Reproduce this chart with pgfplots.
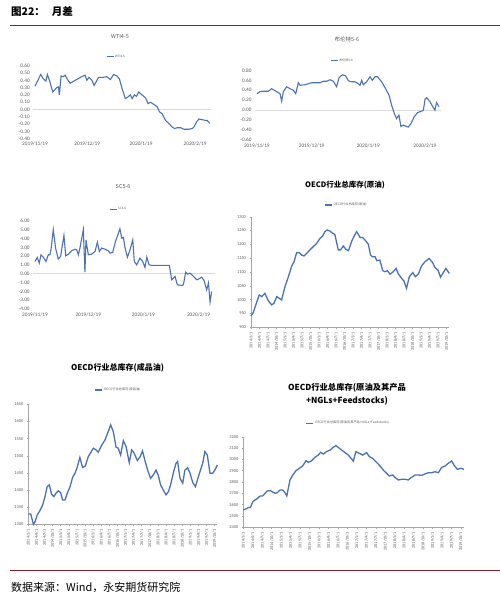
\documentclass[border=0pt]{standalone}
\usepackage{pgfplots}
\pgfplotsset{compat=1.18}
\usepackage{fontspec}
\setmainfont{Carlito}
\newfontfamily\cjk{Noto Sans CJK SC}
\definecolor{lineblue}{RGB}{74,114,180}
\definecolor{zerogray}{RGB}{217,217,217}
\definecolor{labgray}{RGB}{89,89,89}
\definecolor{axgray}{RGB}{166,166,166}
\definecolor{rulered}{RGB}{137,33,51}

\pgfplotsset{
 base/.style={scale only axis, anchor=south west, clip=false, no markers,
   /pgf/number format/assume math mode=true,
   /pgf/number format/1000 sep={},
   tick label style={text=labgray},
   every axis plot post/.append style={lineblue, line width=1.1pt, mark=none},
   legend image code/.code={\draw[#1] (0pt,0pt) -- (7pt,0pt);},
   legend style={draw=none, fill=none, inner sep=0pt, outer sep=0pt, text=labgray, anchor=center, nodes={inner sep=1pt}},
   title style={anchor=center, text=labgray},
 },
 spread/.style={base, axis line style={draw=none}, major tick length=0pt, xmin=-1, xmax=101,
   xtick={0,30,61,92}, xticklabels={2019/11/19,2019/12/19,2020/1/19,2020/2/19},
   tick label style={font=\fontsize{5.3}{6}\selectfont},
   yticklabel style={/pgf/number format/.cd, fixed, fixed zerofill, precision=2},
   extra y ticks={0}, extra y tick labels={}, extra y tick style={grid=major, major grid style={zerogray, line width=0.7pt}},
   legend style={font=\cjk\fontsize{3}{3.5}\selectfont},
   title style={font=\cjk\fontsize{5.5}{6}\selectfont}},
 oecd/.style={base, xmin=0, xmax=70, axis lines*=left, axis line style={axgray, line width=0.5pt}, tick style={axgray, line width=0.4pt}, tick align=outside, major tick length=1.5pt,
   xtick={0,3,...,69},
   xticklabels={2014/1/1,2014/4/1,2014/7/1,2014/10/1,2015/1/1,2015/4/1,2015/7/1,2015/10/1,2016/1/1,2016/4/1,2016/7/1,2016/10/1,2017/1/1,2017/4/1,2017/7/1,2017/10/1,2018/1/1,2018/4/1,2018/7/1,2018/10/1,2019/1/1,2019/4/1,2019/7/1,2019/10/1},
   xticklabel style={rotate=90, anchor=east, font=\fontsize{4.2}{4.5}\selectfont},
   yticklabel style={font=\fontsize{4.4}{5}\selectfont},
   every axis plot post/.append style={line width=1.3pt},
   legend style={font=\cjk\fontsize{3.2}{3.8}\selectfont},
   title style={font=\cjk\bfseries\fontsize{7.5}{9}\selectfont, text=black, align=center}},
}

\begin{document}
\begin{tikzpicture}
\useasboundingbox (0,0) rectangle (500pt,-597pt);
\node[anchor=west, font=\cjk\bfseries\fontsize{10.5}{12}\selectfont, inner sep=0pt] at (11pt,-12pt) {图22：\hspace{7pt}月差};
\draw[rulered, line width=0.8pt] (10pt,-25.7pt) -- (500pt,-25.7pt);
\draw[rulered, line width=0.8pt] (10pt,-570.7pt) -- (500pt,-570.7pt);
\node[anchor=west, font=\cjk\fontsize{11}{13}\selectfont, inner sep=0pt] at (11pt,-587.7pt) {数据来源：Wind，永安期货研究院};

% WTI4-5
\begin{axis}[spread, at={(33.26pt,-138.7pt)}, width=177.5pt, height=73pt,
  ymin=-0.4, ymax=0.6, ytick={-0.4,-0.3,-0.2,-0.1,0,0.1,0.2,0.3,0.4,0.5,0.6},
  title={WTI4-5}, title style={at={(0.489,1.321)}}, legend style={at={(0.466,1.123)}}]
\addplot coordinates {(0,0.32)(3.3,0.48)(4.8,0.42)(6.3,0.39)(7.1,0.48)(8.3,0.40)(10.2,0.24)(12.5,0.30)(13.5,0.31)(14,0.20)(15,0.46)(16.3,0.45)(17.3,0.47)(18.7,0.41)(20.2,0.36)(23.1,0.40)(26.9,0.45)(28.8,0.47)(29.8,0.40)(31,0.44)(32.7,0.40)(34,0.33)(36.5,0.44)(39,0.44)(41.3,0.45)(43.3,0.41)(45.2,0.48)(47.1,0.46)(48.5,0.42)(50,0.29)(51.9,0.15)(53.3,0.17)(54.8,0.20)(55.8,0.15)(57.1,0.20)(58.3,0.18)(59.6,0.24)(61.5,0.20)(63.5,0.16)(65,0.08)(66.3,0.10)(68.3,0.07)(70.2,0.04)(71.5,-0.03)(73.1,-0.06)(75,-0.15)(76.9,-0.19)(78.8,-0.24)(80.2,-0.26)(81.7,-0.25)(83.7,-0.25)(85.6,-0.27)(88.5,-0.27)(90.4,-0.26)(91.3,-0.24)(92.9,-0.17)(94.2,-0.13)(96.2,-0.14)(98.1,-0.15)(99,-0.15)(100.4,-0.19)};
\addlegendentry{WTI4-5}
\end{axis}

% Brent 5-6
\begin{axis}[spread, at={(255pt,-140pt)}, width=186.3pt, height=69.7pt,
  ymin=-0.6, ymax=0.8, ytick={-0.6,-0.4,-0.2,0,0.2,0.4,0.6,0.8},
  title={布伦特5-6}, title style={at={(0.493,1.353)}}, legend style={at={(0.467,1.138)}}]
\addplot coordinates {(0,0.33)(1.7,0.37)(3.6,0.38)(6.3,0.38)(8.1,0.43)(9.6,0.40)(11.8,0.35)(12.7,0.33)(13.6,0.18)(14.5,0.37)(16.3,0.47)(18.2,0.43)(20,0.40)(21.3,0.33)(22.7,0.55)(23.6,0.50)(26.4,0.51)(28.2,0.53)(30,0.55)(31.8,0.55)(34.6,0.55)(36.4,0.58)(38.2,0.58)(40.1,0.61)(41.9,0.58)(43.7,0.47)(45,0.65)(46.8,0.71)(48.6,0.69)(50.1,0.59)(51.9,0.57)(53.7,0.57)(55.6,0.53)(56.5,0.50)(57.4,0.60)(58.3,0.51)(60.1,0.57)(62,0.67)(63.2,0.60)(64.7,0.67)(66.1,0.67)(68.3,0.57)(70.5,0.43)(72.4,0.30)(73.8,0.10)(75.3,-0.07)(76.5,-0.17)(77.8,-0.10)(78.9,-0.33)(80.2,-0.30)(81.5,-0.32)(82.9,-0.34)(84.4,-0.27)(86.2,-0.13)(88,-0.05)(90.2,-0.02)(91.2,0.00)(92.1,0.22)(93,0.25)(94.8,0.17)(96.6,0.05)(97.5,0.00)(98.4,0.15)(99.7,0.07)};
\addlegendentry{布伦特5-6}
\end{axis}

% SC5-6
\begin{axis}[spread, at={(33.2pt,-309pt)}, width=181.3pt, height=88pt,
  ymin=-4, ymax=6, ytick={-4,-3,-2,-1,0,1,2,3,4,5,6},
  title={SC5-6}, title style={at={(0.496,1.326)}}, legend style={at={(0.468,1.133)}}]
\addplot coordinates {(0,1.40)(1.3,1.86)(2.4,1.21)(3.4,2.16)(4.7,1.89)(6.2,1.40)(7.5,2.16)(8.4,2.16)(9,2.73)(10.3,5.0)(11.6,2.92)(13.1,1.67)(14.4,1.97)(16.3,4.36)(17.3,2.05)(18.8,2.23)(20.6,2.61)(22.5,2.80)(23.5,2.73)(24.4,2.16)(25.3,2.92)(27.2,5.0)(28.1,0.19)(28.7,3.86)(30,2.16)(31.9,2.23)(33.8,2.54)(35.1,3.60)(36.2,2.54)(37.5,2.92)(39.4,2.80)(41.3,2.61)(42.2,2.35)(43.7,2.42)(45,3.48)(46.3,4.24)(47.8,5.11)(48.8,4.05)(49.7,4.13)(50.7,2.92)(52,1.89)(53.5,2.73)(55,3.86)(55.9,1.40)(57.2,1.02)(59.1,1.78)(60.6,1.40)(61.9,0.72)(62.9,1.89)(64.2,1.02)(65.7,0.95)(70.4,0.95)(75.6,0.95)(76.9,-0.68)(77.9,-0.49)(78.8,-0.30)(80.1,-1.25)(82.6,-1.33)(83.5,-1.25)(84.8,0.19)(85.9,-0.04)(87.2,0.08)(88.7,-0.19)(91,-0.68)(92.3,-0.57)(93.8,-0.38)(95.1,-0.76)(96.6,-1.82)(97.6,-1.06)(98.5,-3.22)(99.4,-2.01)};
\addlegendentry{SC5-6}
\end{axis}

% OECD crude
\begin{axis}[oecd, at={(251pt,-327.3pt)}, width=198.3pt, height=110.6pt,
  ymin=900, ymax=1300, ytick={900,950,...,1300},
  title={OECD行业总库存(原油)}, title style={at={(0.474,1.232)}}, legend style={at={(0.479,1.106)}}]
\addplot coordinates {(0,941)(0.8,953)(1.8,984)(2.9,1017)(3.8,1011)(4.9,1023)(6.1,996)(7.3,981)(8.1,987)(9.1,1011)(10,1005)(10.8,999)(12,1047)(13.2,1083)(14.4,1122)(15.2,1137)(16.1,1170)(17.1,1170)(17.9,1161)(18.7,1158)(19.6,1167)(20.8,1180)(22,1192)(23.2,1204)(24.4,1222)(25.3,1230)(26.1,1246)(26.9,1252)(27.9,1248)(28.8,1240)(29.6,1236)(30.8,1180)(31.6,1180)(32.6,1194)(33.5,1182)(34.4,1177)(35.5,1210)(36.4,1230)(37.3,1246)(38.5,1225)(39.4,1225)(40.2,1216)(41.4,1201)(42.2,1161)(42.9,1155)(43.8,1155)(44.4,1141)(45.5,1143)(46.5,1105)(47.3,1101)(48.1,1105)(49.1,1092)(50.2,1101)(51.2,1113)(52,1093)(53.2,1077)(54,1067)(54.9,1041)(55.9,1083)(57.1,1098)(58,1083)(59.1,1093)(60.2,1122)(61.4,1137)(62.9,1149)(64.1,1134)(64.9,1117)(66.1,1105)(66.9,1081)(67.9,1098)(68.8,1113)(70,1095)};
\addlegendentry{OECD行业总库存(原油)}
\end{axis}

% OECD products
\begin{axis}[oecd, at={(28.3pt,-524.3pt)}, width=189pt, height=120pt,
  ymin=1300, ymax=1650, ytick={1300,1350,...,1650},
  title={OECD行业总库存(成品油)}, title style={at={(0.472,1.258)}, font=\cjk\bfseries\fontsize{8}{9}\selectfont}, legend style={at={(0.475,1.119)}}]
\addplot coordinates {(0,1330)(0.9,1330)(1.9,1300)(2.5,1308)(3.3,1327)(4.3,1340)(5.3,1356)(6.2,1381)(7,1410)(7.8,1415)(8.6,1388)(9.5,1381)(10.2,1390)(11.1,1398)(12,1392)(12.7,1371)(13.6,1371)(14.4,1390)(15.4,1408)(16.4,1437)(17.3,1449)(18.1,1466)(19.1,1495)(20.1,1466)(21.1,1470)(22.2,1497)(23.1,1509)(24.1,1522)(25.1,1517)(25.9,1510)(27.2,1531)(28.4,1546)(29.6,1570)(30.5,1590)(31.5,1570)(32.5,1525)(33.3,1522)(34.2,1502)(35.2,1544)(36.2,1527)(37.4,1480)(38.3,1517)(39.1,1509)(40.4,1486)(41.4,1497)(42.3,1514)(43.2,1486)(44.2,1458)(45.3,1434)(46.3,1444)(47.3,1458)(48.1,1444)(49,1415)(50,1400)(51,1386)(51.9,1395)(52.7,1415)(53.7,1449)(54.7,1478)(55.3,1483)(56.2,1434)(57.2,1420)(58,1458)(59,1465)(59.9,1449)(60.9,1422)(61.9,1410)(62.7,1431)(63.6,1454)(64.6,1478)(65.4,1512)(66.3,1502)(67.3,1449)(68.3,1449)(69.1,1458)(70,1473)};
\addlegendentry{OECD行业总库存(成品油)}
\end{axis}

% OECD total
\begin{axis}[oecd, at={(243.3pt,-527.3pt)}, width=220.7pt, height=90.6pt,
  ymin=2400, ymax=3200, ytick={2400,2500,...,3200},
  title={OECD行业总库存(原油及其产品\\+NGLs+Feedstocks)}, title style={at={(0.47,1.405)}, font=\cjk\bfseries\fontsize{8.3}{13.4}\selectfont}, legend style={at={(0.474,1.148)}}]
\addplot coordinates {(0,2553)(0.85,2562)(1.6,2574)(2.3,2577)(3,2626)(3.7,2641)(4.4,2653)(5.3,2677)(6.1,2677)(6.9,2700)(7.6,2721)(8.5,2724)(9.3,2712)(10.1,2700)(10.8,2706)(11.6,2729)(12.5,2729)(13.2,2706)(13.8,2677)(14.8,2818)(15.7,2862)(16.7,2900)(17.8,2921)(18.8,2941)(19.9,2988)(20.6,2974)(21.7,2988)(22.7,3018)(23.8,3038)(24.5,3062)(25.4,3047)(26.4,3068)(27.5,3082)(28.5,3106)(29.4,3121)(30.1,3106)(31.2,3082)(32.3,3059)(33.3,3038)(34,3015)(34.9,2985)(35.7,3068)(36.8,3053)(37.9,3038)(39.1,3059)(40,3024)(41,3009)(42.1,2979)(43.4,2941)(44.4,2906)(45.5,2876)(46.3,2853)(47.4,2862)(48.1,2841)(49.2,2818)(50.3,2824)(51.3,2824)(52.3,2818)(53.4,2841)(54.5,2862)(55.5,2862)(56.6,2859)(57.6,2871)(58.7,2882)(59.8,2882)(60.8,2891)(61.9,2882)(62.9,2929)(64,2941)(65,2965)(66.1,2985)(66.8,2950)(67.9,2912)(69,2921)(70,2912)};
\addlegendentry{OECD行业总库存(原油及其产品+NGLs+Feedstocks)}
\end{axis}
\end{tikzpicture}
\end{document}
